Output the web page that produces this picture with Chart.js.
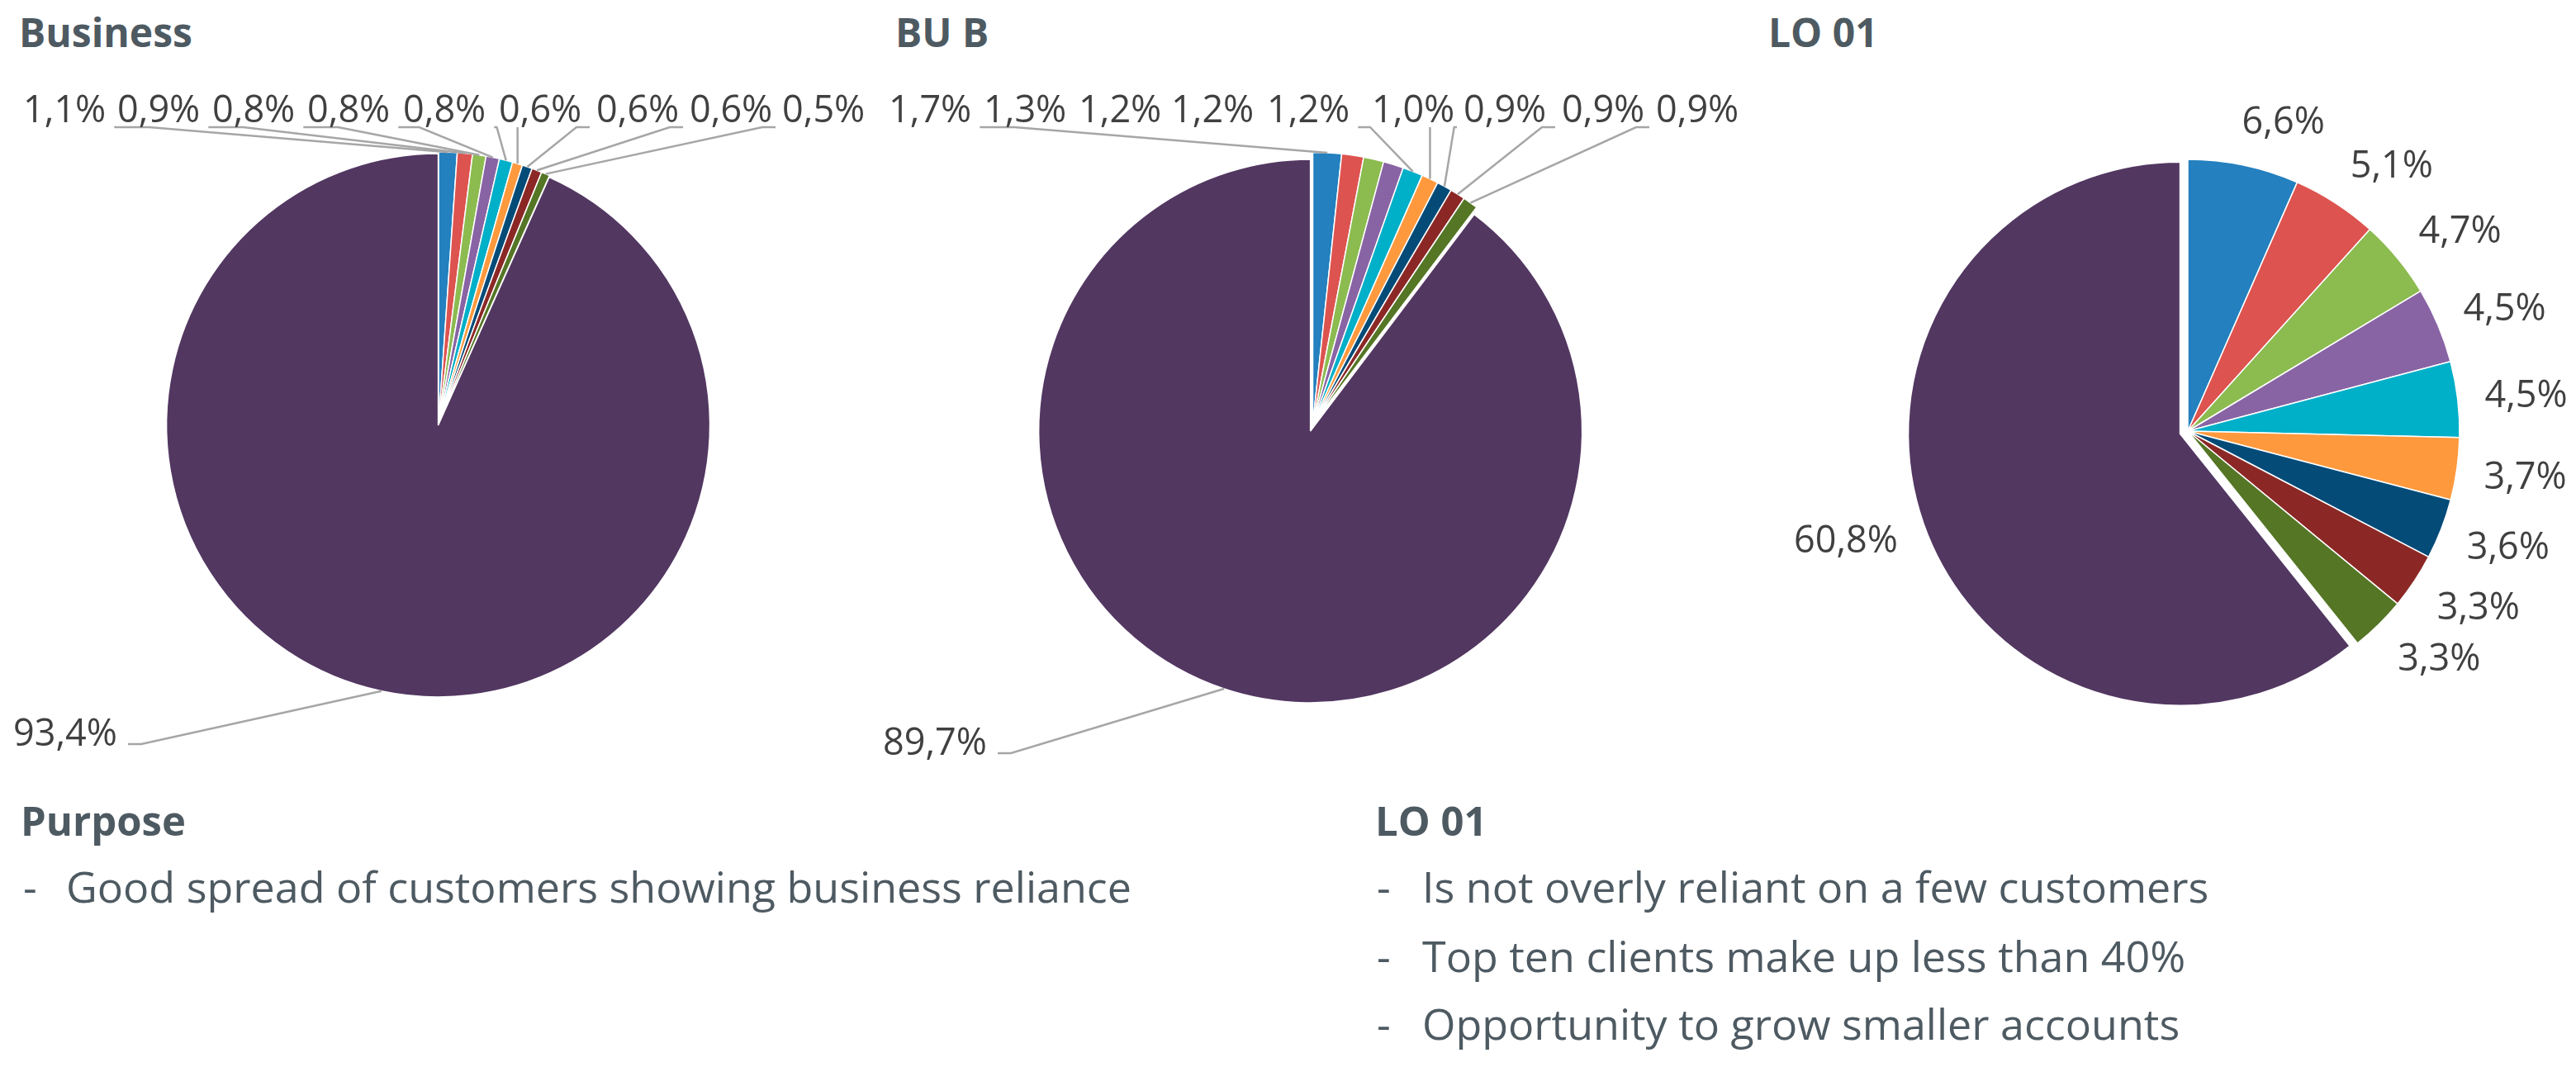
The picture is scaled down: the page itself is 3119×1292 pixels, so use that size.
<!DOCTYPE html>
<html><head><meta charset="utf-8">
<script src="https://cdn.jsdelivr.net/npm/chart.js@4.4.1/dist/chart.umd.min.js"></script>
<style>
html,body{margin:0;padding:0;background:#fff;}
body{width:3119px;height:1292px;position:relative;overflow:hidden;font-family:'Open Sans',sans-serif;color:#4E5A62;}
canvas{position:absolute;left:0;top:0;}
.t{position:absolute;line-height:1;white-space:nowrap;}
.title{font-weight:700;font-size:48px;}
.head{font-weight:700;font-size:49px;}
.body{font-size:52px;}
</style></head><body>
<div class="t title" style="left:23px;top:15px">Business</div>
<div class="t title" style="left:1084px;top:15px">BU B</div>
<div class="t title" style="left:2141px;top:15px">LO 01</div>

<div class="t head" style="left:25px;top:969px">Purpose</div>
<div class="t body" style="left:28px;top:1047px">-</div>
<div class="t body" style="left:80px;top:1047px">Good spread of customers showing business reliance</div>

<div class="t head" style="left:1665px;top:969px">LO 01</div>
<div class="t body" style="left:1667px;top:1047px">-</div>
<div class="t body" style="left:1722px;top:1047px">Is not overly reliant on a few customers</div>
<div class="t body" style="left:1667px;top:1131px">-</div>
<div class="t body" style="left:1722px;top:1131px">Top ten clients make up less than 40%</div>
<div class="t body" style="left:1667px;top:1213px">-</div>
<div class="t body" style="left:1722px;top:1213px">Opportunity to grow smaller accounts</div>

<canvas id="c1" width="3119" height="1292"></canvas>
<canvas id="c2" width="3119" height="1292"></canvas>
<canvas id="c3" width="3119" height="1292"></canvas>
<script>
// ---- data ----
const categories = ['Customer 1','Customer 2','Customer 3','Customer 4','Customer 5','Customer 6','Customer 7','Customer 8','Customer 9','All other customers'];
const businessShares = [1.1, 0.9, 0.8, 0.8, 0.8, 0.6, 0.6, 0.6, 0.5, 93.4];
const buBShares      = [1.7, 1.3, 1.2, 1.2, 1.2, 1.0, 0.9, 0.9, 0.9, 89.7];
const lo01Shares     = [6.6, 5.1, 4.7, 4.5, 4.5, 3.7, 3.6, 3.3, 3.3, 60.8];

// ---- styles / layout ----
const sliceColors = ['#2480BE','#DD534F','#8CBB50','#8864A4','#00AFC8','#FF993D','#044B78','#8B2826','#547625','#523761'];
const W = 3119, H = 1292, RADIUS = 329;
const LABEL_FONT = '45px "Open Sans"';
const LABEL_COLOR = '#404040';
const LINE_COLOR = '#A6A6A6';

const fmt = v => v.toFixed(1).replace('.', ',') + '%';

function padFor(cx, cy) {
  const p = {left:0, right:0, top:0, bottom:0};
  if (cx < W/2) p.right = W - 2*cx; else p.left = 2*cx - W;
  if (cy < H/2) p.bottom = H - 2*cy; else p.top = 2*cy - H;
  return p;
}

function geom(arc, e) {
  const mid = (arc.startAngle + arc.endAngle) / 2;
  const dx = Math.cos(mid), dy = Math.sin(mid);
  return {dx, dy, cx: arc.x + dx*e, cy: arc.y + dy*e, r: arc.outerRadius};
}

const explodePlugin = {
  id: 'explode',
  beforeDatasetDraw(chart, args, opts) {
    const ex = opts.px || [];
    chart.$saved = args.meta.data.map(a => [a.x, a.y]);
    args.meta.data.forEach((a, i) => {
      const e = ex[i] || 0;
      if (!e) return;
      const mid = (a.startAngle + a.endAngle) / 2;
      a.x += Math.cos(mid) * e; a.y += Math.sin(mid) * e;
    });
  },
  afterDatasetDraw(chart, args) {
    if (!chart.$saved) return;
    args.meta.data.forEach((a, i) => { a.x = chart.$saved[i][0]; a.y = chart.$saved[i][1]; });
  }
};

const labelPlugin = {
  id: 'pieLabels',
  afterDatasetsDraw(chart, args, o) {
    const ctx = chart.ctx;
    const values = chart.data.datasets[0].data;
    const arcs = chart.getDatasetMeta(0).data;
    const ex = (chart.options.plugins.explode && chart.options.plugins.explode.px) || [];
    ctx.save();
    ctx.font = LABEL_FONT;
    ctx.fillStyle = LABEL_COLOR;
    ctx.strokeStyle = LINE_COLOR;
    ctx.lineWidth = 2.5;
    ctx.textBaseline = 'alphabetic';
    ctx.textAlign = 'left';
    const last = values.length - 1;
    values.forEach((v, i) => {
      const g = geom(arcs[i], ex[i] || 0);
      const text = fmt(v);
      const w = ctx.measureText(text).width;
      const px = g.cx + g.dx * g.r, py = g.cy + g.dy * g.r;
      if (o.mode === 'outside') {
        const R = g.r + 33;
        const ax = g.cx + g.dx * R, ay = g.cy + g.dy * R;
        const tx = ax + Math.sign(g.dx) * (w/2) * Math.min(1, 4*Math.abs(g.dx));
        const ty = ay + g.dy * 22.6;
        ctx.fillText(text, tx - w/2, ty + 16);
        return;
      }
      let lx, base, sy, pts;
      if (i === last) {
        lx = o.big.x; base = o.big.baseline; sy = base - 2;
        const s = lx + w + 13;
        pts = [[s, sy], [s + 16, sy], [px, py]];
      } else {
        lx = o.rowX[i]; base = o.rowBaseline; sy = o.stubY;
        const left = lx, right = lx + w;
        if (px > right + 10) {
          const s = right + 10;
          pts = [[s, sy], [s + Math.min(42, 0.22*(px - s)), sy], [px, py]];
        } else if (px < left - 8) {
          const s = left - 8;
          pts = [[s, sy], [s - Math.min(16, 0.22*(s - px)), sy], [px, py]];
        } else {
          pts = [[px, sy], [px, py]];
        }
        if (o.leader && !o.leader[i]) pts = null;
      }
      ctx.fillText(text, lx, base);
      if (pts) {
        ctx.beginPath();
        ctx.moveTo(pts[0][0], pts[0][1]);
        for (let k = 1; k < pts.length; k++) ctx.lineTo(pts[k][0], pts[k][1]);
        ctx.stroke();
      }
    });
    ctx.restore();
  }
};

function makePie(id, values, center, explode, labelOpts) {
  return new Chart(document.getElementById(id), {
    type: 'pie',
    data: {
      labels: categories,
      datasets: [{
        data: values,
        backgroundColor: sliceColors,
        borderColor: '#FFFFFF',
        borderWidth: 1.5
      }]
    },
    options: {
      responsive: false,
      animation: false,
      devicePixelRatio: 1,
      radius: RADIUS,
      layout: { padding: padFor(center[0], center[1]) },
      plugins: {
        legend: { display: false },
        tooltip: { enabled: false },
        title: { display: false },
        explode: { px: explode },
        pieLabels: labelOpts
      }
    },
    plugins: [explodePlugin, labelPlugin]
  });
}

document.fonts.load(LABEL_FONT).then(() => {}, () => {}).finally(() => {
  makePie('c1', businessShares, [531, 513], [0,0,0,0,0,0,0,0,0,2], {
    mode: 'row',
    rowX: [28, 142, 257, 372, 488, 604, 722, 835, 947],
    rowBaseline: 147.5, stubY: 154,
    big: { x: 16, baseline: 903 }
  });
  makePie('c2', buBShares, [1589.5, 513.5], [0,0,0,0,0,0,0,0,0,9], {
    mode: 'row',
    rowX: [1076, 1191, 1306, 1418, 1534, 1661, 1772, 1891, 2005],
    leader: [true, false, false, false, true, true, true, true, true],
    rowBaseline: 147.5, stubY: 154,
    big: { x: 1069, baseline: 914 }
  });
  makePie('c3', lo01Shares, [2649, 522], [0,0,0,0,0,0,0,0,0,10], {
    mode: 'outside'
  });
});
</script>
</body></html>
